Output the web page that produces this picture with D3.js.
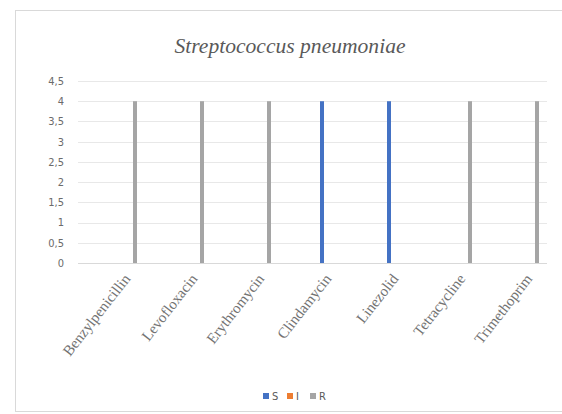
<!DOCTYPE html>
<html><head><meta charset="utf-8">
<script src="https://cdn.jsdelivr.net/npm/d3@7"></script>
<style>body{margin:0;background:#fff;}svg{display:block;}</style>
</head><body>
<svg id="c" width="562" height="414"></svg>
<script>
const title = "Streptococcus pneumoniae";
const categories = ["Benzylpenicillin","Levofloxacin","Erythromycin","Clindamycin","Linezolid","Tetracycline","Trimethoprim"];
const seriesNames = ["S","I","R"];
const valuesS = [0,0,0,4,4,0,0];
const valuesI = [0,0,0,0,0,0,0];
const valuesR = [4,4,4,0,0,4,4];
const yTicks = [0,0.5,1,1.5,2,2.5,3,3.5,4,4.5];
const colors = {S:"#4472c4", I:"#ed7d31", R:"#a5a5a5"};

const series = [
  {name:"S", values:valuesS},
  {name:"I", values:valuesI},
  {name:"R", values:valuesR}
];

const svg = d3.select("#c");
const grey = "#595959";
const locale = d3.formatLocale({decimal:",", thousands:".", grouping:[3], currency:["","€"]});
const fmt = v => locale.format("~g")(v);

// frame
svg.append("rect").attr("x",15.5).attr("y",10.5).attr("width",560).attr("height",401)
  .attr("fill","#fff").attr("stroke","#d9d9d9");

const gridL = 78, gridR = 547;
const y = d3.scaleLinear().domain([0,4.5]).range([263,81]);
const x = d3.scaleBand().domain(categories).range([94.5,563.5]).paddingInner(0).paddingOuter(0);
const xi = d3.scaleBand().domain(seriesNames).range([0,21]).paddingInner(3/7).paddingOuter(3/14);

// title
svg.append("text").attr("x",290).attr("y",53).attr("text-anchor","middle")
  .style("font-family","'Liberation Serif', serif").style("font-style","italic")
  .attr("font-size",20).attr("fill",grey).attr("textLength",231).attr("lengthAdjust","spacingAndGlyphs")
  .text(title);

// gridlines
svg.append("g").selectAll("line").data(yTicks).join("line")
  .attr("x1",gridL).attr("x2",gridR)
  .attr("y1",d=>Math.round(y(d))+0.5).attr("y2",d=>Math.round(y(d))+0.5)
  .attr("stroke",d=>d===0?"#d9d9d9":"#e8e8e8").attr("stroke-width",1);

// y labels
svg.append("g").selectAll("text").data(yTicks).join("text")
  .attr("x",64).attr("y",d=>y(d)).attr("dy","0.35em").attr("text-anchor","end")
  .attr("font-family","Liberation Sans Narrow, DejaVu Sans Condensed, sans-serif")
  .attr("font-stretch","condensed")
  .attr("font-size",11).attr("fill","#6b6b6b").text(d=>fmt(d));

// bars
const g = svg.append("g");
series.forEach(s => {
  g.append("g").selectAll("rect").data(categories.map((c,i)=>({c, v:s.values[i]}))).join("rect")
    .attr("x",d=>x(d.c)+x.bandwidth()/2-10.5+xi(s.name))
    .attr("width",xi.bandwidth())
    .attr("y",d=>y(d.v)).attr("height",d=>y(0)-y(d.v))
    .attr("fill",colors[s.name]);
});

// x labels
svg.append("g").selectAll("text").data(categories).join("text")
  .attr("transform",d=>`translate(${x(d)+x.bandwidth()/2+3},${279}) rotate(-52)`)
  .attr("text-anchor","end")
  .attr("font-family","Liberation Serif, serif")
  .attr("font-size",15).attr("fill","#737373").text(d=>d);

// legend
const legX = [263, 287, 310];
const lg = svg.append("g");
seriesNames.forEach((n,i)=>{
  lg.append("rect").attr("x",legX[i]).attr("y",393).attr("width",6).attr("height",6).attr("fill",colors[n]);
  lg.append("text").attr("x",legX[i]+9).attr("y",396).attr("dy","0.35em")
    .attr("font-family","Liberation Sans Narrow, DejaVu Sans Condensed, sans-serif")
    .attr("font-size",11).attr("fill",grey).text(n);
});
</script>
</body></html>
